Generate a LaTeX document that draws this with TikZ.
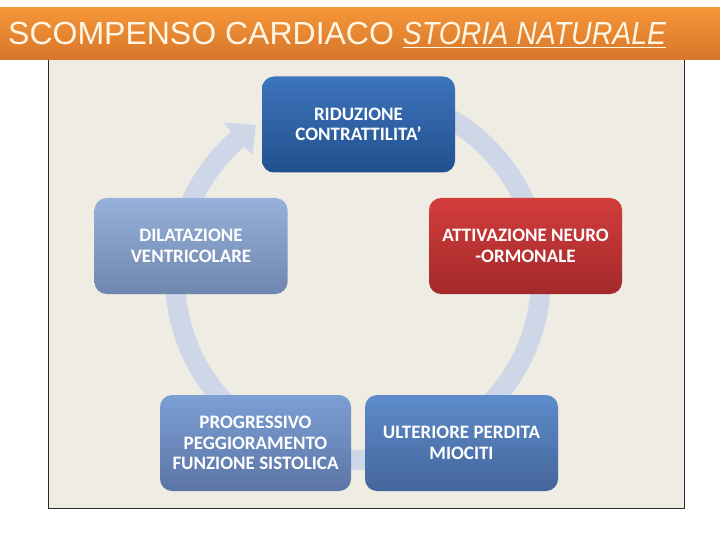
\documentclass[tikz,border=0pt]{standalone}
\usepackage{fontspec}
\setmainfont{Liberation Sans}
\newfontfamily\boxfont{Carlito}
\usetikzlibrary{calc}
\definecolor{orangetop}{HTML}{F5963A}
\definecolor{orangebot}{HTML}{D6762A}
\definecolor{titletext}{HTML}{FFF6E4}
\definecolor{panelfill}{HTML}{EFECE4}
\definecolor{panelborder}{HTML}{2A2A2A}
\definecolor{ringcol}{HTML}{CED7E7}
\definecolor{b1top}{HTML}{3D74BC}
\definecolor{b1bot}{HTML}{22508E}
\definecolor{b2top}{HTML}{98B1DA}
\definecolor{b2bot}{HTML}{6F87AE}
\definecolor{b3top}{HTML}{D23D3C}
\definecolor{b3bot}{HTML}{A3292A}
\definecolor{b4top}{HTML}{7D9FD4}
\definecolor{b4bot}{HTML}{5B75A5}
\definecolor{b5top}{HTML}{5E8CCB}
\definecolor{b5bot}{HTML}{44659A}
\tikzset{
  stagebox/.style={rectangle, rounded corners=12pt, minimum width=193pt, minimum height=96pt,
    align=center, text=white, inner sep=2pt,
    font=\boxfont\bfseries\fontsize{19}{20.5}\selectfont}
}
\begin{document}
\begin{tikzpicture}[x=1pt,y=-1pt]
\useasboundingbox (0,0) rectangle (720,540);
\fill[white] (0,0) rectangle (720,540);
\draw[panelborder, fill=panelfill, line width=1pt] (48,60) rectangle (684,508);
\shade[top color=orangetop, bottom color=orangebot] (0,8) rectangle (720,60);
\node[anchor=base west, text=titletext, inner sep=0pt] (title) at (8,45)
  {\fontsize{32}{36}\selectfont SCOMPENSO CARDIACO \scalebox{0.89}[1]{\itshape\underline{STORIA NATURALE}}};
\coordinate (c) at (358,277);
\draw[ringcol, line width=20pt] ($(c)+(-85:183)$) arc[start angle=-85, end angle=230, radius=183];
\fill[ringcol] ($(c)+(229:205)$) -- ($(c)+(236:183)$) -- ($(c)+(229:161)$) -- cycle;
\node[stagebox, top color=b1top, bottom color=b1bot] (rid) at (358.5,124.5) {RIDUZIONE\\CONTRATTILITA’};
\node[stagebox, top color=b2top, bottom color=b2bot] (dil) at (191,246) {DILATAZIONE\\VENTRICOLARE};
\node[stagebox, top color=b3top, bottom color=b3bot] (att) at (525.5,246) {ATTIVAZIONE NEURO\\-ORMONALE};
\node[stagebox, top color=b4top, bottom color=b4bot, minimum width=191pt] (pro) at (255.5,443) {PROGRESSIVO\\PEGGIORAMENTO\\FUNZIONE SISTOLICA};
\node[stagebox, top color=b5top, bottom color=b5bot] (ult) at (461.5,443) {ULTERIORE PERDITA\\MIOCITI};
\end{tikzpicture}
\end{document}
